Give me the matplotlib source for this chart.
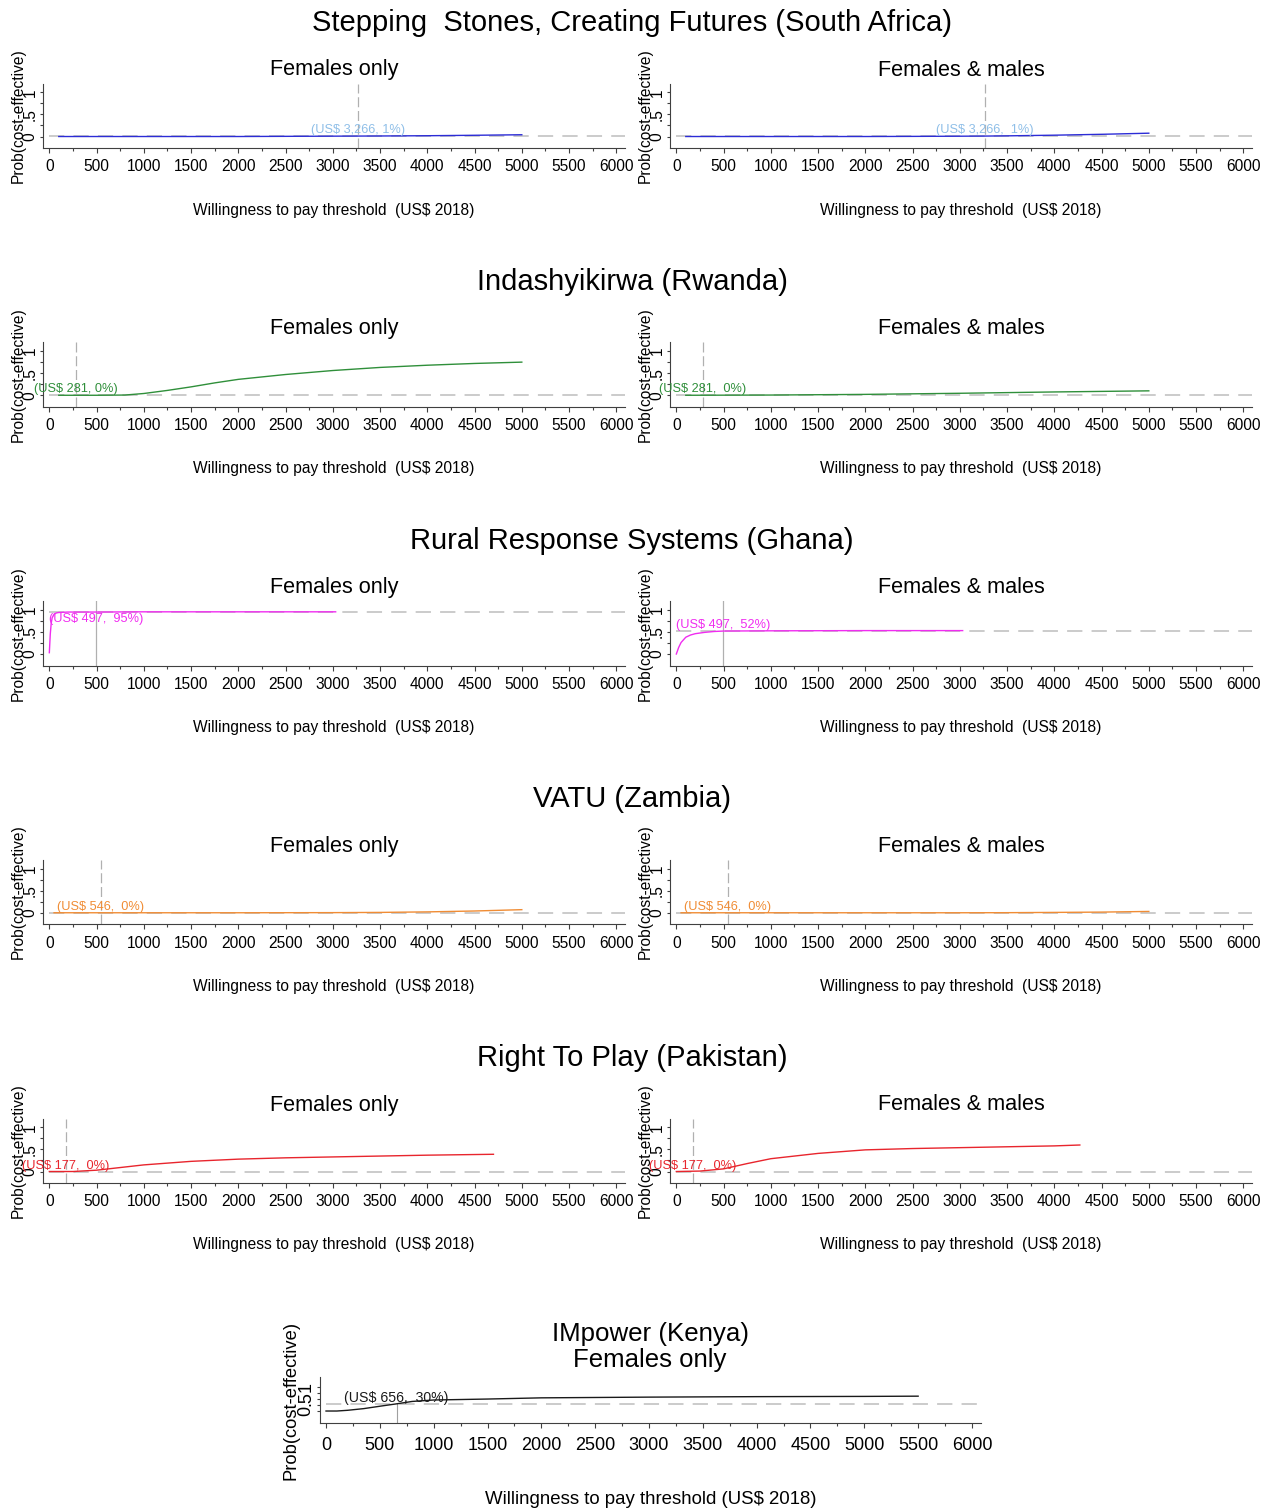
import matplotlib.pyplot as plt
from matplotlib.ticker import MultipleLocator, FixedLocator

plt.rcParams['font.family'] = ['Liberation Sans', 'DejaVu Sans']

W, H = 1277, 1511

group_titles = ['Stepping  Stones, Creating Futures (South Africa)',
                'Indashyikirwa (Rwanda)',
                'Rural Response Systems (Ghana)',
                'VATU (Zambia)',
                'Right To Play (Pakistan)']
panel_titles = ['Females only', 'Females & males']

# threshold (US$) and probability at threshold, per group: [females only, females & males]
thresholds = [3266, 281, 497, 546, 177]
probs_f = [0.01, 0.0, 0.95, 0.0, 0.0]
probs_fm = [0.01, 0.0, 0.52, 0.0, 0.0]
labels_f = ['(US$ 3,266, 1%)', '(US$ 281, 0%)', '(US$ 497,  95%)', '(US$ 546,  0%)', '(US$ 177,  0%)']
labels_fm = ['(US$ 3,266,  1%)', '(US$ 281,  0%)', '(US$ 497,  52%)', '(US$ 546,  0%)', '(US$ 177,  0%)']

# Stepping Stones, Creating Futures
ss_f_x = [100, 500, 1000, 1500, 2000, 2500, 3000, 3266, 3500, 4000, 4500, 5000]
ss_f_y = [0, 0, 0, 0, 0, 0.004, 0.008, 0.01, 0.012, 0.018, 0.028, 0.04]
ss_fm_x = [100, 500, 1000, 1500, 2000, 2500, 3000, 3266, 3500, 4000, 4500, 5000]
ss_fm_y = [0, 0, 0, 0, 0, 0.003, 0.007, 0.01, 0.015, 0.03, 0.05, 0.075]

# Indashyikirwa
rw_f_x = [100, 500, 800, 1000, 1250, 1500, 1750, 2000, 2500, 3000, 3500, 4000, 4500, 5000]
rw_f_y = [0, 0, 0.005, 0.04, 0.11, 0.19, 0.28, 0.36, 0.47, 0.56, 0.63, 0.68, 0.72, 0.75]
rw_fm_x = [100, 1000, 2000, 3000, 4000, 5000]
rw_fm_y = [0, 0.005, 0.02, 0.045, 0.075, 0.1]

# Rural Response Systems
gh_f_x = [0, 10, 20, 30, 50, 75, 100, 200, 500, 1000, 2000, 3030]
gh_f_y = [0.03, 0.45, 0.7, 0.82, 0.9, 0.93, 0.94, 0.95, 0.95, 0.955, 0.955, 0.955]
gh_fm_x = [0, 25, 50, 100, 150, 200, 300, 400, 500, 1000, 2000, 3030]
gh_fm_y = [0.0, 0.15, 0.26, 0.38, 0.43, 0.46, 0.49, 0.51, 0.52, 0.525, 0.53, 0.53]

# VATU
za_f_x = [50, 1000, 2000, 3000, 3500, 4000, 4500, 5000]
za_f_y = [0, 0, 0, 0.003, 0.008, 0.02, 0.04, 0.07]
za_fm_x = [50, 1000, 2000, 3000, 3500, 4000, 4500, 5000]
za_fm_y = [0, 0, 0, 0, 0.002, 0.008, 0.015, 0.03]

# Right To Play
pk_f_x = [0, 250, 500, 750, 1000, 1500, 2000, 2500, 3000, 3500, 4000, 4700]
pk_f_y = [0, 0, 0.03, 0.09, 0.15, 0.23, 0.28, 0.31, 0.33, 0.35, 0.37, 0.39]
pk_fm_x = [0, 250, 500, 750, 1000, 1500, 2000, 2500, 3000, 3500, 4000, 4270]
pk_fm_y = [0, 0.01, 0.06, 0.18, 0.29, 0.41, 0.49, 0.52, 0.54, 0.56, 0.58, 0.6]

# IMpower (Kenya)
ke_x = [0, 100, 200, 350, 500, 656, 800, 1000, 1500, 2000, 3000, 4000, 5000, 5500]
ke_y = [0, 0, 0.03, 0.1, 0.2, 0.3, 0.4, 0.46, 0.5, 0.55, 0.58, 0.6, 0.61, 0.62]
ke_thr, ke_prob = 656, 0.30

curves_f = [(ss_f_x, ss_f_y), (rw_f_x, rw_f_y), (gh_f_x, gh_f_y), (za_f_x, za_f_y), (pk_f_x, pk_f_y)]
curves_fm = [(ss_fm_x, ss_fm_y), (rw_fm_x, rw_fm_y), (gh_fm_x, gh_fm_y), (za_fm_x, za_fm_y), (pk_fm_x, pk_fm_y)]

line_colors = ['#2c2cd6', '#2f8f3a', '#f02cf0', '#f08c34', '#e8252d']
text_colors = ['#8fbfe8', '#2f8f3a', '#f02cf0', '#f08c34', '#e8252d']
vline_styles = [(0, (8, 3)), (0, (8, 3)), '-', (0, (8, 3)), (0, (8, 3))]
label_dy_f = [4.3, 4.3, -5.0, 4.3, 4.3]
label_dy_fm = [4.3, 4.3, 4.0, 4.3, 4.3]

GRAY = '#bdbdbd'
AXC = '#404040'


def px_axes(left, top, right, bottom):
    return fig.add_axes([left / W, 1 - bottom / H, (right - left) / W, (bottom - top) / H])


def style_axes(ax, xlim, ylim, fs_tick, xpad):
    ax.set_xlim(*xlim)
    ax.set_ylim(*ylim)
    for s in ['top', 'right']:
        ax.spines[s].set_visible(False)
    for s in ['left', 'bottom']:
        ax.spines[s].set_color(AXC)
        ax.spines[s].set_linewidth(0.8)
    ax.xaxis.set_major_locator(MultipleLocator(500))
    ax.xaxis.set_minor_locator(MultipleLocator(250))
    ax.yaxis.set_major_locator(FixedLocator([0, 0.5, 1]))
    ax.yaxis.set_minor_locator(FixedLocator([0.25, 0.75]))
    ax.set_yticklabels(['0', '.5', '1'])
    ax.tick_params(axis='x', which='major', length=3.5, width=0.8, color=AXC,
                   labelsize=fs_tick, pad=xpad)
    ax.tick_params(axis='x', which='minor', length=2.5, width=0.8, color=AXC)
    ax.tick_params(axis='y', which='major', length=2.5, width=0.8, color=AXC,
                   labelsize=fs_tick, pad=1.5, labelrotation=90)
    ax.tick_params(axis='y', which='minor', length=2, width=0.8, color=AXC)
    for t in ax.get_yticklabels():
        t.set_va('center')


def draw_panel(ax, x, y, thr, prob, text, color, tcolor, vstyle, dy, fs_text, vfull=True):
    ax.plot([0, 6090], [prob, prob], color=GRAY, lw=1.1, ls=(0, (10, 6)), zorder=1)
    if vfull:
        ax.axvline(thr, color='#b0b0b0', lw=0.9, ls=vstyle, zorder=1)
    else:
        ax.plot([thr, thr], [ax.get_ylim()[0], prob], color='#a0a0a0', lw=0.8, zorder=1)
    ax.plot(x, y, color=color, lw=1.0, zorder=2)
    ax.annotate(text, (thr, prob), xytext=(0, dy), textcoords='offset points',
                ha='center', va='center', color=tcolor, fontsize=fs_text, zorder=3)


fig = plt.figure(figsize=(W / 100, H / 100), dpi=100)

row_step = 258.75
panel_x = [(43, 625), (670, 1252)]
for g in range(5):
    off = g * row_step
    fig.text(632 / W, 1 - (23 + off) / H, group_titles[g], ha='center', va='center', fontsize=21)
    for p in range(2):
        left, right = panel_x[p]
        ax = px_axes(left, 83.5 + off, right, 148 + off)
        style_axes(ax, (-67, 6092), (-0.26, 1.2), 11.2, 4.6)
        if p == 0:
            cx, cy = curves_f[g]
            draw_panel(ax, cx, cy, thresholds[g], probs_f[g], labels_f[g], line_colors[g],
                       text_colors[g], vline_styles[g], label_dy_f[g], 9.2)
        else:
            cx, cy = curves_fm[g]
            draw_panel(ax, cx, cy, thresholds[g], probs_fm[g], labels_fm[g], line_colors[g],
                       text_colors[g], vline_styles[g], label_dy_fm[g], 9.2)
        ax.text(0.5, 1 + (83.5 - 70) / 64.5, panel_titles[p], transform=ax.transAxes,
                ha='center', va='center', fontsize=15.6)
        ax.set_xlabel('Willingness to pay threshold  (US$ 2018)', fontsize=11.2, va='center')
        ax.xaxis.set_label_coords(0.5, -(210 - 148) / 64.5)
        ax.set_ylabel('Prob(cost-effective)', fontsize=11.2, va='center')
        ax.yaxis.set_label_coords(-25 / (right - left), 0.5)

# IMpower (Kenya)
fig.text(650 / W, 1 - 1334 / H, 'IMpower (Kenya)', ha='center', va='center', fontsize=18.6)
fig.text(650 / W, 1 - 1360 / H, 'Females only', ha='center', va='center', fontsize=18.5)
ax = px_axes(320, 1377, 981, 1423)
style_axes(ax, (-56, 6084), (-0.5, 1.42), 13, 6.5)
draw_panel(ax, ke_x, ke_y, ke_thr, ke_prob, '(US$ 656,  30%)', '#1a1a1a', '#1a1a1a', '-', 4.0,
           10.2, vfull=False)
ax.set_xlabel('Willingness to pay threshold (US$ 2018)', fontsize=13.4, va='center')
ax.xaxis.set_label_coords(0.5, -(1499 - 1423) / 46)
ax.set_ylabel('Prob(cost-effective)', fontsize=13.2, va='center')
ax.yaxis.set_label_coords(-(320 - 291) / 661, 0.5)

fig.savefig('out.png', dpi=100)
